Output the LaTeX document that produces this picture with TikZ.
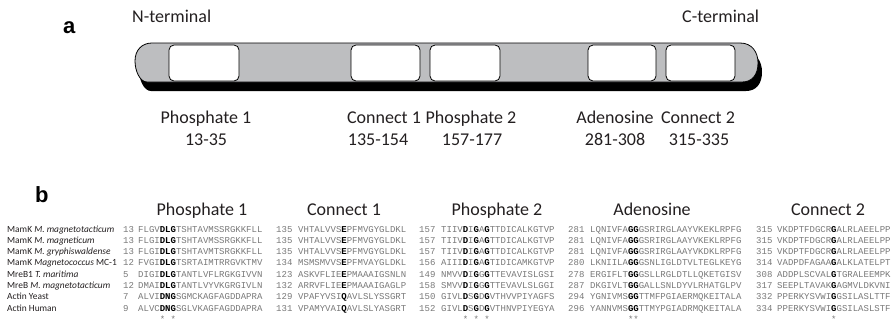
\documentclass[tikz,border=0pt]{standalone}
\usepackage{fontspec}
\setmainfont{Carlito}
\setsansfont{Liberation Sans}
\setmonofont{Liberation Mono}
\definecolor{barfill}{RGB}{189,190,192}
\definecolor{seqgray}{RGB}{120,120,120}
\definecolor{ink}{RGB}{35,31,32}
% conserved residue: bold and black
\newcommand\cons[1]{\textbf{\textcolor{black}{#1}}}
% baseline of alignment row #1
\newcommand\rowy[1]{232+11.3*(#1-1)}

\begin{document}
\begin{tikzpicture}[x=1pt,y=-1pt,
  lab/.style={inner sep=0pt, anchor=base, font=\fontsize{18}{20}\selectfont, text=ink},
  termlab/.style={inner sep=0pt, anchor=base west, font=\fontsize{18}{20}\selectfont, text=ink},
  panel/.style={inner sep=0pt, anchor=base west, font=\sffamily\bfseries\fontsize{22}{24}\selectfont},
  domainbox/.style={draw=black, line width=0.8pt, fill=white, rounded corners=5pt},
  species/.style={inner sep=0pt, anchor=base west, font=\fontsize{9.4}{10}\selectfont, text=ink},
  seq/.style={inner sep=0pt, anchor=base west, font=\ttfamily\fontsize{9}{10}\selectfont, text=seqgray},
]
\useasboundingbox (0,0) rectangle (893,330);

% ---------------- panel a: domain map ----------------
\node[panel] (tag-a) at (63,33) {a};
\node[termlab] (nterm) at (132,22) {N-terminal};
\node[termlab] (cterm) at (682,22) {C-terminal};

% drop shadow of the protein bar
\begin{scope}[shift={(4,9)}]
  \fill[black] (152,43) -- (740,43) .. controls (752,43) and (758,52) .. (758,63)
    .. controls (758,75) and (752,82) .. (742,82) -- (147,82)
    .. controls (140,82) and (135,71) .. (135,61)
    .. controls (135,50) and (142,43) .. (152,43) -- cycle;
\end{scope}
% protein bar
\filldraw[fill=barfill, draw=black, line width=0.8pt]
  (152,43) -- (740,43) .. controls (752,43) and (758,52) .. (758,63)
    .. controls (758,75) and (752,82) .. (742,82) -- (147,82)
    .. controls (140,82) and (135,71) .. (135,61)
    .. controls (135,50) and (142,43) .. (152,43) -- cycle;

% domains
\draw[domainbox] (169,45) rectangle (239,81);
\draw[domainbox] (351,45) rectangle (420,81);
\draw[domainbox] (430,45) rectangle (500,81);
\draw[domainbox] (588,45) rectangle (656,81);
\draw[domainbox] (666,45) rectangle (735,81);

\node[lab] (d1) at (206,123) {Phosphate 1};
\node[lab] (r1) at (206,145) {13-35};
\node[lab] (d2) at (384,123) {Connect 1};
\node[lab] (r2) at (378,145) {135-154};
\node[lab] (d3) at (471,123) {Phosphate 2};
\node[lab] (r3) at (472,145) {157-177};
\node[lab] (d4) at (615,123) {Adenosine};
\node[lab] (r4) at (615,145) {281-308};
\node[lab] (d5) at (698,123) {Connect 2};
\node[lab] (r5) at (699,145) {315-335};

% ---------------- panel b: alignment ----------------
\node[panel] (tag-b) at (35,202) {b};
\node[lab] (h1) at (202,215) {Phosphate 1};
\node[lab] (h2) at (344,215) {Connect 1};
\node[lab] (h3) at (497,215) {Phosphate 2};
\node[lab] (h4) at (652,215) {Adenosine};
\node[lab] (h5) at (828,215) {Connect 2};

\foreach [count=\r] \sp in {
  {MamK \textit{M. magnetotacticum}},
  {MamK \textit{M. magneticum}},
  {MamK \textit{M. gryphiswaldense}},
  {MamK \textit{Magnetococcus} MC-1},
  {MreB1 \textit{T. maritima}},
  {MreB \textit{M. magnetotacticum}},
  {Actin Yeast},
  {Actin Human}}
  \node[species] (sp\r) at (7,{\rowy{\r}}) {\sp};

% Phosphate 1
\foreach [count=\r] \n/\s in {
  13/{FLGV\cons{DLG}TSHTAVMSSRGKKFLL},
  13/{FLGI\cons{DLG}TSHTAVMSSRGKKFLL},
  13/{FLGI\cons{DLG}TSHTAVMTSRGKKFLL},
  12/{FVGI\cons{DLG}TSRTAIMTRRGVKTMV},
  5/{DIGI\cons{DLG}TANTLVFLRGKGIVVN},
  12/{DMAI\cons{DLG}TANTLVYVKGRGIVLN},
  7/{ALVI\cons{DNG}SGMCKAGFAGDDAPRA},
  9/{ALVC\cons{DNG}SGLVKAGFAGDDAPRA}} {
  \node[seq] (pa-n\r) at (123,{\rowy{\r}}) {\n};
  \node[seq] (pa-s\r) at (138,{\rowy{\r}}) {\s};
}
\node[seq] (pa-st) at (138,322) {\phantom{FLGV}*\phantom{L}*};

% Connect 1
\foreach [count=\r] \n/\s in {
  135/{VHTALVVS\cons{E}PFMVGYGLDKL},
  135/{VHTALVVS\cons{E}PFMVGYGLDKL},
  135/{VHTALVVS\cons{E}PFMVGYGLDKL},
  134/{MSMSMVVS\cons{E}PFMVAYGLDKL},
  123/{ASKVFLIE\cons{E}PMAAAIGSNLN},
  132/{ARRVFLIE\cons{E}PMAAAIGAGLP},
  129/{VPAFYVSI\cons{Q}AVLSLYSSGRT},
  131/{VPAMYVAI\cons{Q}AVLSLYASGRT}} {
  \node[seq] (cb-n\r) at (276,{\rowy{\r}}) {\n};
  \node[seq] (cb-s\r) at (298,{\rowy{\r}}) {\s};
}

% Phosphate 2
\foreach [count=\r] \n/\s in {
  157/{TIIV\cons{D}I\cons{G}A\cons{G}TTDICALKGTVP},
  157/{TIIV\cons{D}I\cons{G}A\cons{G}TTDICALKGTVP},
  157/{TIIV\cons{D}I\cons{G}A\cons{G}TTDICALKGTVP},
  156/{AIII\cons{D}I\cons{G}A\cons{G}TIDICAMKGTVP},
  149/{NMVV\cons{D}I\cons{G}G\cons{G}TTEVAVISLGSI},
  158/{SMVV\cons{D}I\cons{G}G\cons{G}TTEVAVLSLGGI},
  150/{GIVL\cons{D}S\cons{G}D\cons{G}VTHVVPIYAGFS},
  152/{GIVL\cons{D}S\cons{G}D\cons{G}VTHNVPIYEGYA}} {
  \node[seq] (pb-n\r) at (419,{\rowy{\r}}) {\n};
  \node[seq] (pb-s\r) at (441,{\rowy{\r}}) {\s};
}
\node[seq] (pb-st) at (441,322) {\phantom{TIIV}*\phantom{I}*\phantom{A}*};

% Adenosine
\foreach [count=\r] \n/\s in {
  281/{LQNIVFA\cons{GG}GSRIRGLAAYVKEKLRPFG},
  281/{LQNIVFA\cons{GG}GSRIRGLAAYVKEKLRPFG},
  281/{LQNIVFA\cons{GG}GSRIRGLAAYVKDKLRPFG},
  280/{LKNIILA\cons{GG}GSNLIGLDTVLTEGLKEYG},
  278/{ERGIFLT\cons{GG}GSLLRGLDTLLQKETGISV},
  287/{DKGIVLT\cons{GG}GALLSNLDYVLRHATGLPV},
  294/{YGNIVMS\cons{GG}TTMFPGIAERMQKEITALA},
  296/{YANNVMS\cons{GG}TTMYPGIADRMQKEITALA}} {
  \node[seq] (ad-n\r) at (568,{\rowy{\r}}) {\n};
  \node[seq] (ad-s\r) at (590,{\rowy{\r}}) {\s};
}
\node[seq] (ad-st) at (590,322) {\phantom{LQNIVFA}**};

% Connect 2
\foreach [count=\r] \n/\s in {
  315/{VKDPTFDGCR\cons{G}ALRLAEELPP},
  315/{VKDPTFDGCR\cons{G}ALRLAEELPP},
  315/{VKDPTFDGCR\cons{G}ALRLAEELPP},
  314/{VADPDFAGAA\cons{G}ALKLATELPT},
  308/{ADDPLSCVAL\cons{G}TGRALEEMPK},
  317/{SEEPLTAVAK\cons{G}AGMVLDKVNI},
  332/{PPERKYSVWI\cons{G}GSILASLTTF},
  334/{PPERKYSVWI\cons{G}GSILASLSTF}} {
  \node[seq] (cc-n\r) at (756,{\rowy{\r}}) {\n};
  \node[seq] (cc-s\r) at (777,{\rowy{\r}}) {\s};
}
\node[seq] (cc-st) at (777,322) {\phantom{VKDPTFDGCR}*};
\end{tikzpicture}
\end{document}
